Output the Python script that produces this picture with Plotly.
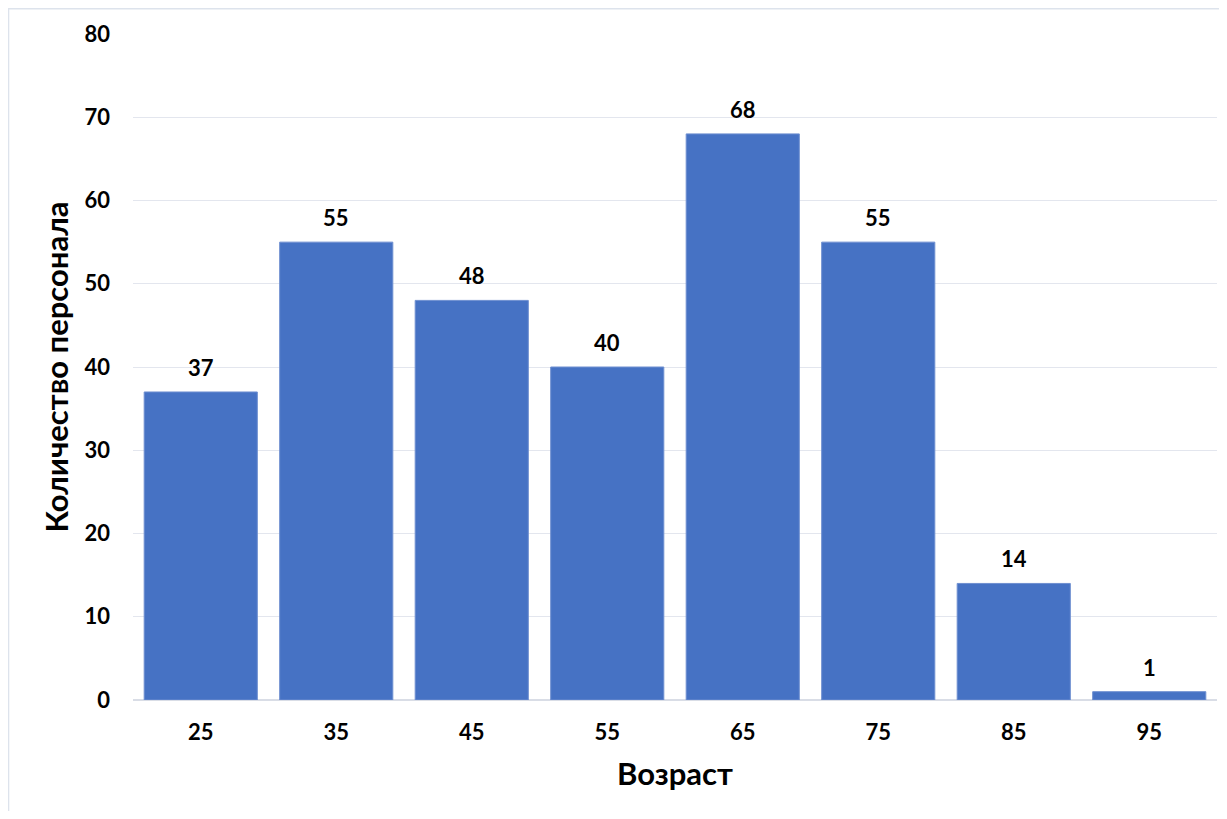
import plotly.graph_objects as go

ages = [25, 35, 45, 55, 65, 75, 85, 95]
counts = [37, 55, 48, 40, 68, 55, 14, 1]
y_ticks = [0, 10, 20, 30, 40, 50, 60, 70, 80]

FONT = "Lato, 'Open Sans', sans-serif"

W, H = 1211, 803
L, R, T, B = 125, 2, 26, 111
pw, ph = W - L - R, H - T - B

fig = go.Figure()
fig.add_trace(go.Bar(
    x=ages, y=counts,
    marker=dict(color="#4672c4", line=dict(width=1, color="#6e8fd0")),
))

for a, c in zip(ages, counts):
    fig.add_annotation(x=a, y=c, text=str(c), showarrow=False,
                       yanchor="bottom", yshift=9,
                       font=dict(family=FONT, size=22, color="black", weight="bold"))

fig.update_layout(
    width=W, height=H,
    margin=dict(l=L, r=R, t=T, b=B),
    paper_bgcolor="white", plot_bgcolor="white",
    bargap=0.165,
    showlegend=False,
    font=dict(family=FONT, color="black"),
    xaxis=dict(
        range=[20, 100], tickvals=ages,
        tickfont=dict(family=FONT, size=22, color="black", weight="bold"),
        ticks="", ticklabelstandoff=13, showgrid=False, zeroline=False,
        showline=True, linecolor="#d9dde6", linewidth=1,
        title=dict(text="Возраст", font=dict(family=FONT, size=31, color="black", weight="bold"), standoff=18),
    ),
    yaxis=dict(
        range=[0, 80], tickvals=y_ticks,
        tickfont=dict(family=FONT, size=22, color="black", weight="bold"),
        ticks="", ticklabelstandoff=22,
        showgrid=True, gridcolor="#e3e6ee", gridwidth=1,
        zeroline=True, zerolinecolor="#d9dde6",
        title=dict(text="Количество персонала", font=dict(family=FONT, size=31, color="black", weight="bold"), standoff=6),
    ),
    shapes=[dict(type="rect", xref="paper", yref="paper",
                 x0=-L / pw + 0.0005, x1=1 + (R + 30) / pw,
                 y0=-(B + 30) / ph, y1=1 + T / ph - 0.001,
                 line=dict(color="#dde3ec", width=1.5), fillcolor="rgba(0,0,0,0)", layer="below")],
)

fig.write_html("out.html")
